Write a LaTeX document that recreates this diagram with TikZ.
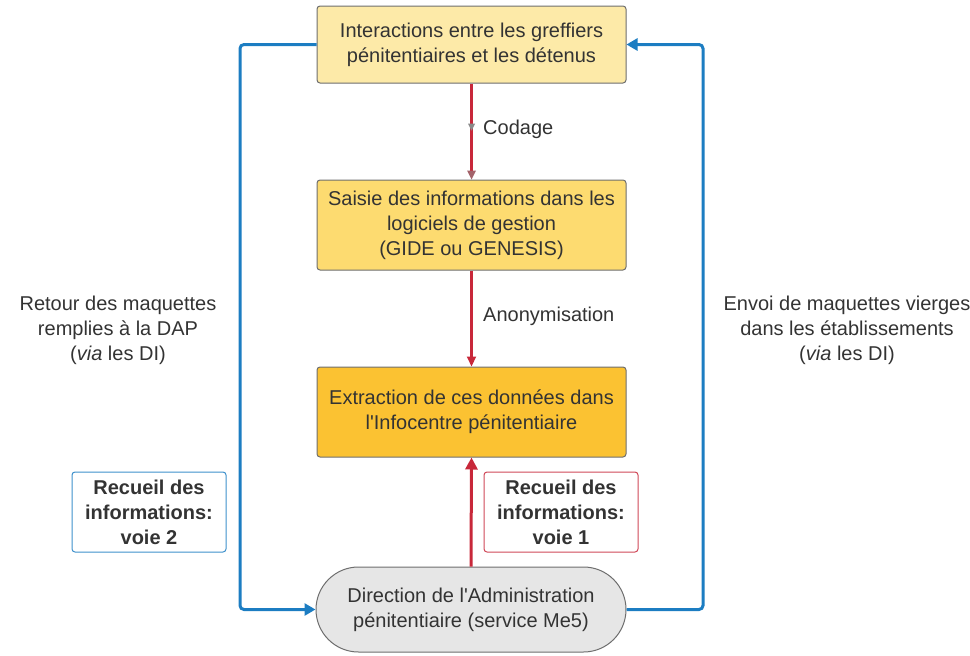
\documentclass[tikz,border=0pt]{standalone}
\usepackage{fontspec}
\setmainfont{Liberation Sans}
\usetikzlibrary{arrows.meta,shapes.misc,decorations.markings}
\definecolor{txt}{HTML}{333333}
\definecolor{bxA}{HTML}{FDEAA8}
\definecolor{bxB}{HTML}{FDDB70}
\definecolor{bxC}{HTML}{FBC232}
\definecolor{dapfill}{HTML}{E6E6E6}
\definecolor{bord}{HTML}{6E6E6E}
\definecolor{blu}{HTML}{1C7DC2}
\definecolor{rd}{HTML}{C8283A}
\definecolor{tipgray}{HTML}{8A8A8A}
\tikzset{
  every node/.style={text=txt, font=\fontsize{20}{25}\selectfont, align=center},
  stepbox/.style={draw=bord, line width=1pt, rounded corners=3pt, minimum width=309pt},
  dapbox/.style={draw=bord, line width=1pt, fill=dapfill, rounded rectangle, minimum width=310pt, minimum height=85pt, inner sep=0pt},
  voiebox/.style={line width=1pt, rounded corners=3pt, minimum width=154pt, minimum height=80pt, font=\bfseries\fontsize{20}{25}\selectfont, inner sep=0pt},
  redlink/.style={draw=rd, line width=2.2pt},
  bluelink/.style={draw=blu, line width=3pt, rounded corners=4pt, -{Triangle[length=11pt,width=12pt]}},
  lbl/.style={anchor=west, inner sep=0pt}
}
\begin{document}
\begin{tikzpicture}[x=1pt,y=-1pt]
\useasboundingbox (0,0) rectangle (970,656);
\node[stepbox, fill=bxA, minimum height=77pt] (b1) at (471.5,44.5) {Interactions entre les greffiers\\pénitentiaires et les détenus};
\node[stepbox, fill=bxB, minimum height=90pt] (b2) at (471.5,225) {Saisie des informations dans les\\logiciels de gestion\\(GIDE ou GENESIS)};
\node[stepbox, fill=bxC, minimum height=90pt] (b3) at (471.5,412) {Extraction de ces données dans\\l\textquotesingle Infocentre pénitentiaire};
\node[dapbox] (dap) at (471,609.5) {Direction de l\textquotesingle Administration\\pénitentiaire (service Me5)};
\node[voiebox, draw=blu!85] (v2) at (149,512) {Recueil des\\informations:\\voie 2};
\node[voiebox, draw=rd!85] (v1) at (561,512) {Recueil des\\informations:\\voie 1};
\node[lbl] (codage) at (483,129) {Codage};
\node[lbl] (anon) at (483,316) {Anonymisation};
\node (left) at (118,330) {Retour des maquettes\\remplies à la DAP\\(\textit{via} les DI)};
\node (right) at (847,330) {Envoi de maquettes vierges\\dans les établissements\\(\textit{via} les DI)};
\coordinate (L) at (240,0);
\coordinate (R) at (703,0);
% red connectors
\draw[redlink, shorten >=8pt] (b1.south) -- (b2.north);
\path[decorate, decoration={markings,
  mark=at position 0.44 with {\fill[tipgray] (-2pt,-3.5pt) -- (-2pt,3.5pt) -- (5pt,0pt) -- cycle;},
  mark=at position 1 with {\fill[tipgray!60!rd] (-9pt,-4.5pt) -- (-9pt,4.5pt) -- (0pt,0pt) -- cycle;}}] (b1.south) -- (b2.north);
\draw[redlink, -{Triangle[length=10pt,width=9pt]}] (b2.south) -- (b3.north);
\draw[draw=rd, line width=3pt, -{Triangle[length=12pt,width=12pt]}] (dap.north) -- (b3.south);
% blue connectors
\draw[bluelink] (b1.west) -- (b1.west -| L) |- (dap.west);
\draw[bluelink] (dap.east) -- (dap.east -| R) |- (b1.east);
\end{tikzpicture}
\end{document}
